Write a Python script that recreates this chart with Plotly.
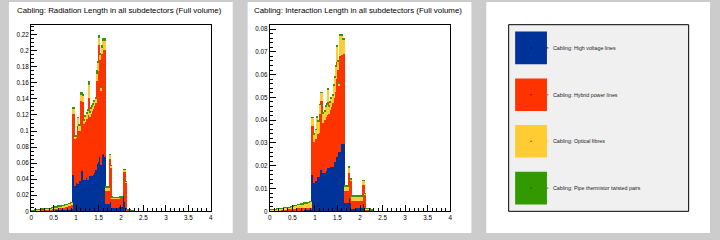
import plotly.graph_objects as go

W, H = 720, 240

# ---------------- data ----------------
bin_width = 0.025
n_bins = 94
eta_centers = [round(bin_width * (i + 0.5), 4) for i in range(n_bins)]

series_names = [
    "Cabling: High voltage lines",
    "Cabling: Hybrid power lines",
    "Cabling: Optical fibres",
    "Cabling: Pipe thermistor twisted pairs",
]
series_colors = ["#003399", "#ff3300", "#ffcc33", "#339900"]

# Radiation length
radlen_hv = [0.0005,0.0005,0.0005, 0.0007,0.0007,0.0007, 0.0008,0.0008,0.0008, 0.0009,0.0009,0.0009,
             0.001,0.001,0.001, 0.0012,0.0012,0.0012, 0.0013,0.0013,0.0013, 0.0015,0.0015,0.0015,
             0.0017,0.0017,0.0017, 0.0019,0.0019,0.0019, 0.0021,0.0021,0.0021, 0.0024,0.0024, 0.0027,0.0027,
             0.046,0.046,0.032,0.036,0.034,0.040,0.038,0.051,0.051,0.052,0.040,0.039,0.042,0.040,0.058,
             0.044,0.046,0.045,0.046,0.048,0.052,0.059,0.062,0.075,0.068,0.058,0.070,0.072,0.068,
             0.0098,0.0098,0.0098,0.0098, 0.022,0.012,0.004, 0.004,0.005,0.005,0.006,0.005,0.006,
             0.006,0.006,0.006, 0.020,0.012,0.004, 0.0008,0.0008,0.0008,0.0008, 0.0004,0.0004,0.0004, 0,0]
radlen_power = [0.0007,0.0007,0.0007, 0.001,0.001,0.001, 0.0012,0.0012,0.0012, 0.0014,0.0014,0.0014,
                0.0016,0.0016,0.0016, 0.0019,0.0019,0.0019, 0.0022,0.0022,0.0022, 0.0027,0.0027,0.0027,
                0.0032,0.0032,0.0032, 0.0037,0.0037,0.0037, 0.0042,0.0042,0.0042, 0.0049,0.0049, 0.0055,0.0055,
                0.076,0.076,0.059,0.056,0.073,0.060,0.063,0.087,0.087,0.085,0.069,0.073,0.074,0.080,0.083,
                0.074,0.076,0.080,0.082,0.083,0.083,0.104,0.113,0.132,0.121,0.092,0.126,0.129,0.133,
                0.0157,0.0157,0.0157,0.0157, 0.044,0.043,0.012, 0.012,0.011,0.011,0.010,0.011,0.010,
                0.011,0.011,0.011, 0.030,0.038,0.032, 0.0014,0.0014,0.0014,0.0014, 0.0007,0.0007,0.0007, 0,0]
radlen_optical = [0.0004,0.0004,0.0004, 0.0005,0.0005,0.0005, 0.0006,0.0006,0.0006, 0.0008,0.0008,0.0008,
                  0.0009,0.0009,0.0009, 0.0011,0.0011,0.0011, 0.0013,0.0013,0.0013, 0.0015,0.0015,0.0015,
                  0.0017,0.0017,0.0017, 0.0019,0.0019,0.0019, 0.0021,0.0021,0.0021, 0.0024,0.0024, 0.0027,0.0027,
                  0.007,0.007,0.003,0.002,0.010,0.007,0.006,0.007,0.007,0.007,0.005,0.007,0.006,0.006,0.017,
                  0.006,0.006,0.006,0.006,0.006,0.006,0.009,0.010,0.009,0.007,0.005,0.009,0.011,0.011,
                  0.004,0.004,0.004,0.004, 0.005,0.002,0.0015, 0.0015,0.0015,0.0015,0.0015,0.0015,0.0015,
                  0.001,0.001,0.001, 0.002,0.002,0.001, 0.0006,0.0006,0.0006,0.0006, 0.0003,0.0003,0.0003, 0,0]
radlen_pipe = [0.0001,0.0001,0.0001, 0.0001,0.0001,0.0001, 0.0002,0.0002,0.0002, 0.0002,0.0002,0.0002,
               0.0003,0.0003,0.0003, 0.0003,0.0003,0.0003, 0.0004,0.0004,0.0004, 0.0004,0.0004,0.0004,
               0.0005,0.0005,0.0005, 0.0005,0.0005,0.0005, 0.0006,0.0006,0.0006, 0.0007,0.0007, 0.0007,0.0007,
               0.0008,0.0008,0.0008,0.0004,0.0008,0.0015,0.002,0.004,0.004,0.003,0.0015,0.002,0.002,0.002,0.005,
               0.0015,0.0015,0.0015,0.0015,0.002,0.002,0.005,0.003,0.004,0.002,0.0015,0.002,0.004,0.004,
               0.0012,0.0012,0.0012,0.0012, 0.0004,0.0003,0.0012, 0.0006,0.0006,0.0006,0.0006,0.0006,0.0006,
               0.0005,0.0005,0.0005, 0.0008,0.0008,0.0003, 0.0002,0.0002,0.0002,0.0002, 0.0001,0.0001,0.0001, 0,0]

# Interaction length
intlen_hv = [0.0002,0.0002,0.0002, 0.0002,0.0002,0.0002, 0.0003,0.0003,0.0003, 0.0003,0.0003,0.0003,
             0.0003,0.0003,0.0003, 0.0004,0.0004,0.0004, 0.0004,0.0004,0.0004, 0.0004,0.0004,0.0004,
             0.0005,0.0005,0.0005, 0.0005,0.0005,0.0005, 0.0006,0.0006,0.0006, 0.0006,0.0006, 0.0006,0.0006,
             0.016,0.016,0.0126,0.0135,0.015,0.0152,0.015,0.0183,0.0183,0.0204,0.017,0.017,0.018,0.019,0.021,
             0.019,0.0198,0.0198,0.0198,0.0216,0.0216,0.0241,0.0241,0.0282,0.026,0.026,0.0299,0.0299,0.0299,
             0.0039,0.0039,0.0039,0.0039, 0.006,0.004,0.0013, 0.0012,0.0013,0.0013,0.0015,0.0014,0.0016,
             0.0015,0.0015,0.0015, 0.0053,0.0035,0.0012, 0.0003,0.0003,0.0003,0.0003, 0.0002,0.0002,0.0002, 0,0]
intlen_power = [0.0003,0.0003,0.0003, 0.0004,0.0004,0.0004, 0.0004,0.0004,0.0004, 0.0005,0.0005,0.0005,
                0.0005,0.0005,0.0005, 0.0006,0.0006,0.0006, 0.0007,0.0007,0.0007, 0.0008,0.0008,0.0008,
                0.0009,0.0009,0.0009, 0.001,0.001,0.001, 0.0011,0.0011,0.0011, 0.0012,0.0012, 0.0011,0.0011,
                0.0214,0.0214,0.018,0.0185,0.021,0.0188,0.0195,0.0246,0.0304,0.0283,0.022,0.023,0.0235,0.0235,0.027,
                0.024,0.0247,0.0262,0.0277,0.0284,0.0309,0.0339,0.0415,0.0338,0.029,0.0425,0.039,0.0391,0.0391,
                0.0053,0.0053,0.0053,0.0053, 0.0109,0.0093,0.0033, 0.0034,0.0033,0.0033,0.0031,0.0032,0.003,
                0.0033,0.0033,0.0033, 0.0065,0.0083,0.0063, 0.0005,0.0005,0.0005,0.0005, 0.0003,0.0003,0.0003, 0,0]
intlen_optical = [0.0003,0.0003,0.0003, 0.0004,0.0004,0.0004, 0.0005,0.0005,0.0005, 0.0006,0.0006,0.0006,
                  0.0008,0.0008,0.0008, 0.0009,0.0009,0.0009, 0.0011,0.0011,0.0011, 0.0014,0.0014,0.0014,
                  0.0016,0.0016,0.0016, 0.0018,0.0018,0.0018, 0.002,0.002,0.002, 0.0022,0.0022, 0.0026,0.0026,
                  0.0038,0.0038,0.0034,0.004,0.0055,0.0055,0.005,0.0041,0.0036,0.0036,0.0042,0.0038,0.0045,0.0045,0.0058,
                  0.0032,0.0035,0.0035,0.0035,0.0055,0.0065,0.0058,0.0069,0.004,0.0012,0.0087,0.0083,0.0065,0.0065,
                  0.0019,0.0019,0.0019,0.0019, 0.0025,0.001,0.0022, 0.0022,0.0022,0.0022,0.0022,0.0022,0.0022,
                  0.002,0.002,0.002, 0.0018,0.0018,0.0004, 0.0004,0.0004,0.0004,0.0004, 0.0002,0.0002,0.0002, 0,0]
intlen_pipe = [0.00005,0.00005,0.00005, 0.00005,0.00005,0.00005, 0.00005,0.00005,0.00005, 0.00005,0.00005,0.00005,
               0.00005,0.00005,0.00005, 0.0001,0.0001,0.0001, 0.0001,0.0001,0.0001, 0.0001,0.0001,0.0001,
               0.0001,0.0001,0.0001, 0.0001,0.0001,0.0001, 0.0001,0.0001,0.0001, 0.00015,0.00015, 0.00015,0.00015,
               0.0001,0.0001,0.0002,0.0002,0.0005,0.0004,0.0005,0.0002,0.0002,0.0002,0.0003,0.0004,0.0004,0.0004,0.0005,
               0.0003,0.0004,0.0004,0.0004,0.0004,0.0005,0.0006,0.0005,0.0005,0.0003,0.0005,0.0005,0.0006,0.0006,
               0.0004,0.0004,0.0004,0.0004, 0.0002,0.0002,0.0001, 0.0001,0.0001,0.0001,0.0001,0.0001,0.0001,
               0.00015,0.00015,0.00015, 0.0002,0.0002,0.0001, 0.00005,0.00005,0.00005,0.00005, 0.00005,0.00005,0.00005, 0,0]

x_tick_vals = [0, 0.5, 1, 1.5, 2, 2.5, 3, 3.5, 4]
x_tick_text = ["0", "0.5", "1", "1.5", "2", "2.5", "3", "3.5", "4"]

titles = ["Cabling: Radiation Length in all subdetectors (Full volume)",
          "Cabling: Interaction Length in all subdetectors (Full volume)"]

for arr in [radlen_hv, radlen_power, radlen_optical, radlen_pipe,
            intlen_hv, intlen_power, intlen_optical, intlen_pipe]:
    assert len(arr) == n_bins, len(arr)

# ---------------- figure ----------------
def px(x):
    return x / W

def py(y):
    return 1 - y / H

FONT = "Liberation Sans, Arial, Helvetica, sans-serif"

fig = go.Figure()

radlen = [radlen_hv, radlen_power, radlen_optical, radlen_pipe]
intlen = [intlen_hv, intlen_power, intlen_optical, intlen_pipe]

for vals, name, col in zip(radlen, series_names, series_colors):
    fig.add_trace(go.Bar(x=eta_centers, y=vals, width=bin_width, name=name,
                         marker=dict(color=col, line=dict(width=0)),
                         showlegend=False, xaxis="x", yaxis="y"))
for vals, name, col in zip(intlen, series_names, series_colors):
    fig.add_trace(go.Bar(x=eta_centers, y=vals, width=bin_width, name=name,
                         marker=dict(color=col, line=dict(width=0)),
                         showlegend=False, xaxis="x2", yaxis="y2"))

tickfont = dict(family=FONT, size=6.3, color="black")

def xaxis_cfg(d0, d1, anchor):
    return dict(domain=[px(d0), px(d1)], range=[0, 4], anchor=anchor,
                tickvals=x_tick_vals, ticktext=x_tick_text,
                ticks="inside", ticklen=6, tickwidth=1, tickcolor="black",
                minor=dict(dtick=0.1, tick0=0, ticks="inside", ticklen=3, tickcolor="black", tickwidth=1),
                showline=True, linecolor="black", linewidth=1, mirror=True,
                showgrid=False, zeroline=False, tickfont=tickfont)

def yaxis_cfg(anchor, ymax, dtick, minor_dtick):
    return dict(domain=[py(214), py(25)], range=[0, ymax], anchor=anchor,
                dtick=dtick, tick0=0,
                ticks="inside", ticklen=6, tickwidth=1, tickcolor="black",
                minor=dict(dtick=minor_dtick, tick0=0, ticks="inside", ticklen=3, tickcolor="black", tickwidth=1),
                showline=True, linecolor="black", linewidth=1, mirror=True,
                showgrid=False, zeroline=False, tickfont=tickfont)

shapes = []
# pads
for x0, x1 in [(7, 232), (247, 472), (487, 712)]:
    shapes.append(dict(type="rect", xref="paper", yref="paper", layer="below",
                       x0=px(x0), x1=px(x1), y0=py(236), y1=py(2),
                       fillcolor="white", line=dict(width=0)))
# legend box
shapes.append(dict(type="rect", xref="paper", yref="paper", layer="below",
                   x0=px(509.5), x1=px(690.5), y0=py(214), y1=py(25),
                   fillcolor="#f0f0f0", line=dict(color="black", width=1)))

annotations = []
for t, x0 in zip(titles, [13, 251]):
    annotations.append(dict(text=t, xref="paper", yref="paper", x=px(x0), y=py(11),
                            xanchor="left", yanchor="middle", showarrow=False,
                            font=dict(family=FONT, size=7.9, color="#000000")))

legend_centers = [48.5, 96, 143, 190.5]
for name, col, cy in zip(series_names, series_colors, legend_centers):
    shapes.append(dict(type="rect", xref="paper", yref="paper",
                       x0=px(516), x1=px(548), y0=py(cy + 16.5), y1=py(cy - 16.5),
                       fillcolor=col, line=dict(width=0)))
    shapes.append(dict(type="line", xref="paper", yref="paper",
                       x0=px(546), x1=px(549.5), y0=py(cy), y1=py(cy),
                       line=dict(color=col, width=1)))
    shapes.append(dict(type="rect", xref="paper", yref="paper",
                       x0=px(531.5), x1=px(532.5), y0=py(cy + 0.5), y1=py(cy - 0.5),
                       fillcolor="black", line=dict(width=0)))
    annotations.append(dict(text=name, xref="paper", yref="paper", x=px(552), y=py(cy),
                            xanchor="left", yanchor="middle", showarrow=False,
                            font=dict(family=FONT, size=5.3, color="#222222")))

fig.update_layout(
    width=W, height=H,
    margin=dict(l=0, r=0, t=0, b=0),
    paper_bgcolor="#cccccc",
    plot_bgcolor="white",
    barmode="stack", bargap=0,
    xaxis=xaxis_cfg(29.3, 210, "y"),
    yaxis=yaxis_cfg("x", 0.2325, 0.02, 0.005),
    xaxis2=xaxis_cfg(269.3, 450.7, "y2"),
    yaxis2=yaxis_cfg("x2", 0.0819, 0.01, 0.002),
    shapes=shapes,
    annotations=annotations,
    showlegend=False,
)

fig.write_html("out.html", config={"displayModeBar": False})
